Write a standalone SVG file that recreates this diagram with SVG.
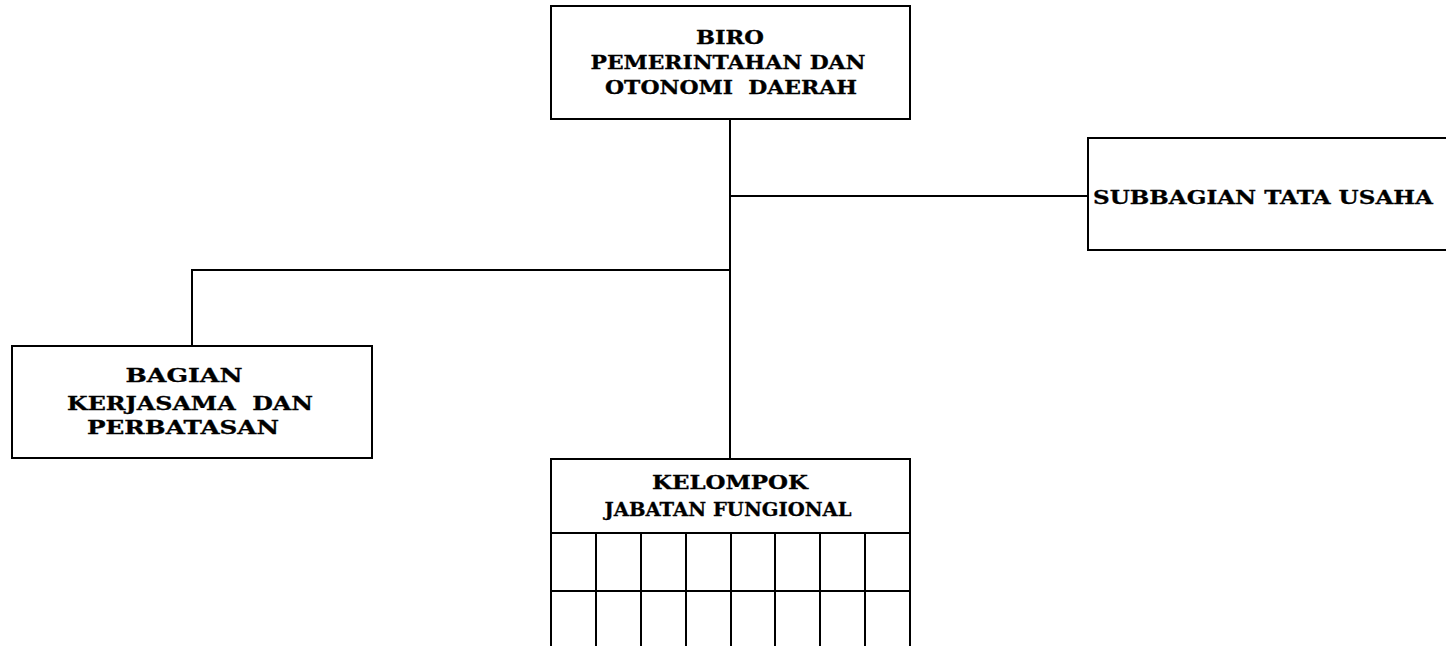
<svg xmlns="http://www.w3.org/2000/svg" width="1446" height="646" viewBox="0 0 1446 646">
<style>
.box{fill:#fff;stroke:#000;stroke-width:2}
.ln{fill:none;stroke:#000;stroke-width:2}
.t{font-family:"DejaVu Serif","Liberation Serif",serif;font-weight:bold;font-size:18px;fill:#000;text-anchor:middle;stroke:#000;stroke-width:0.3}
</style>
<rect width="1446" height="646" fill="#fff"/>
<g id="connectors">
<path class="ln" d="M730,119 V460"/>
<path class="ln" d="M730,196 H1088"/>
<path class="ln" d="M730,270 H192 V346"/>
</g>
<g id="biro">
<rect class="box" x="551" y="6" width="359" height="113"/>
<text class="t" x="730" y="44" textLength="68" lengthAdjust="spacingAndGlyphs">BIRO</text>
<text class="t" x="728" y="69" textLength="275" lengthAdjust="spacingAndGlyphs">PEMERINTAHAN DAN</text>
<text class="t" x="731" y="94" textLength="252" lengthAdjust="spacingAndGlyphs" xml:space="preserve">OTONOMI  DAERAH</text>
</g>
<g id="subbagian">
<rect class="box" x="1088" y="138" width="370" height="112"/>
<text class="t" x="1263" y="204" style="font-size:19px" textLength="340" lengthAdjust="spacingAndGlyphs">SUBBAGIAN TATA USAHA</text>
</g>
<g id="bagian">
<rect class="box" x="12" y="346" width="360" height="112"/>
<text class="t" x="184" y="382" textLength="117" lengthAdjust="spacingAndGlyphs">BAGIAN</text>
<text class="t" x="190" y="410" textLength="246" lengthAdjust="spacingAndGlyphs" xml:space="preserve">KERJASAMA  DAN</text>
<text class="t" x="183" y="434" textLength="192" lengthAdjust="spacingAndGlyphs">PERBATASAN</text>
</g>
<g id="kelompok">
<rect class="box" x="551" y="459" width="359" height="200"/>
<path class="ln" d="M551,533 H910 M551,591 H910 M596,533 V646 M641,533 V646 M686,533 V646 M731,533 V646 M775,533 V646 M820,533 V646 M865,533 V646"/>
<text class="t" x="730" y="489" textLength="156" lengthAdjust="spacingAndGlyphs">KELOMPOK</text>
<text class="t" x="728" y="516" textLength="247" lengthAdjust="spacingAndGlyphs">JABATAN FUNGIONAL</text>
</g>
</svg>
